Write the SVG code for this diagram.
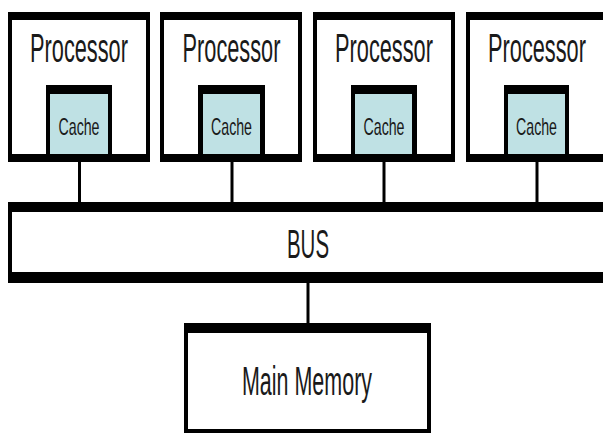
<svg xmlns="http://www.w3.org/2000/svg" width="603" height="435" viewBox="0 0 603 435">
<style>
.frame{fill:#000}
.inner{fill:#fff}
.cache{fill:#bfe1e4}
.conn{stroke:#000;stroke-width:3;fill:none}
.lbl{font-family:"Liberation Sans",Arial,sans-serif;fill:#1a1a1a;text-anchor:middle}
.big{font-size:40px}
.small{font-size:23px}
</style>
<rect width="603" height="435" fill="#fff"/>
<g id="connectors">
<line class="conn" x1="79.5" y1="160" x2="79.5" y2="204"/>
<line class="conn" x1="232" y1="160" x2="232" y2="204"/>
<line class="conn" x1="384" y1="160" x2="384" y2="204"/>
<line class="conn" x1="537" y1="160" x2="537" y2="204"/>
<line class="conn" x1="308" y1="281" x2="308" y2="325"/>
</g>
<g id="processor1">
<rect class="frame" x="8" y="12" width="142" height="150"/>
<rect class="inner" x="12" y="20" width="134" height="134"/>
<text class="lbl big" transform="translate(79,62) scale(0.544,1)">Processor</text>
<g id="cache1">
<rect class="frame" x="46" y="85" width="66" height="70"/>
<rect class="cache" x="50" y="94" width="58" height="60"/>
<text class="lbl small" transform="translate(79,135) scale(0.617,1)">Cache</text>
</g>
</g>
<g id="processor2">
<rect class="frame" x="160" y="12" width="142" height="150"/>
<rect class="inner" x="164" y="20" width="134" height="134"/>
<text class="lbl big" transform="translate(231.5,62) scale(0.544,1)">Processor</text>
<g id="cache2">
<rect class="frame" x="198" y="85" width="67" height="70"/>
<rect class="cache" x="203" y="94" width="57" height="60"/>
<text class="lbl small" transform="translate(231.5,135) scale(0.617,1)">Cache</text>
</g>
</g>
<g id="processor3">
<rect class="frame" x="313" y="12" width="142" height="150"/>
<rect class="inner" x="317" y="20" width="134" height="134"/>
<text class="lbl big" transform="translate(384,62) scale(0.544,1)">Processor</text>
<g id="cache3">
<rect class="frame" x="351" y="85" width="66" height="70"/>
<rect class="cache" x="355" y="94" width="57" height="60"/>
<text class="lbl small" transform="translate(384,135) scale(0.617,1)">Cache</text>
</g>
</g>
<g id="processor4">
<rect class="frame" x="466" y="12" width="142" height="150"/>
<rect class="inner" x="470" y="20" width="134" height="134"/>
<text class="lbl big" transform="translate(537,62) scale(0.544,1)">Processor</text>
<g id="cache4">
<rect class="frame" x="504" y="85" width="65" height="70"/>
<rect class="cache" x="508" y="94" width="57" height="60"/>
<text class="lbl small" transform="translate(536.5,135) scale(0.617,1)">Cache</text>
</g>
</g>
<g id="bus">
<rect class="frame" x="8" y="202" width="602" height="81"/>
<rect class="inner" x="12" y="212" width="598" height="60"/>
<text class="lbl big" transform="translate(308,258) scale(0.511,1)">BUS</text>
</g>
<g id="mainmemory">
<rect class="frame" x="184" y="323" width="247" height="110"/>
<rect class="inner" x="188" y="333" width="239" height="96"/>
<text class="lbl big" transform="translate(307,395) scale(0.537,1)">Main Memory</text>
</g>
</svg>
